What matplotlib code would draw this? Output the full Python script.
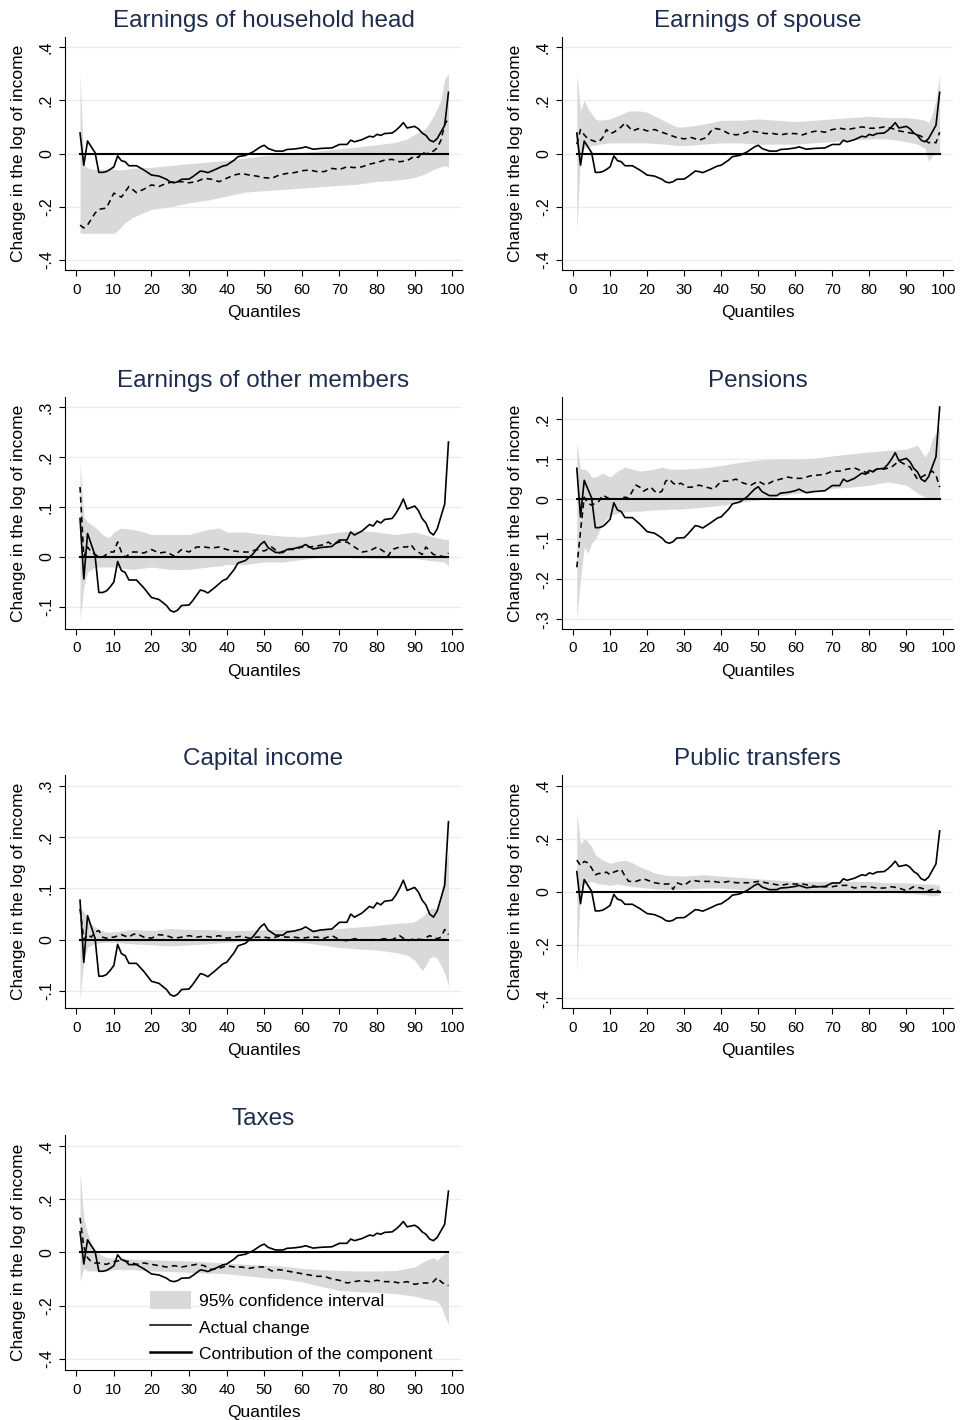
import matplotlib
matplotlib.use("Agg")
import matplotlib.pyplot as plt
from matplotlib.lines import Line2D
from matplotlib.patches import Patch
import numpy as np

plt.rcParams['font.family'] = ['Liberation Sans', 'DejaVu Sans']

# actual change (same in every panel)
ACT_Q = [1, 2, 3, 4, 5, 6, 7, 8, 9, 10, 11, 12, 13, 14, 16, 18, 20, 22, 24, 25, 26, 27, 28, 30, 31, 33, 34, 35,
         37, 39, 40, 42, 43, 45, 47, 49, 50, 51, 53, 55, 56, 58, 60, 61, 63, 65, 68, 70, 72, 73, 74, 76, 78, 79,
         80, 81, 82, 84, 85, 86, 87, 88, 90, 91, 92, 93, 94, 95, 96, 97, 98, 99]
ACT_Y = [0.077, -0.044, 0.047, 0.025, 0.003, -0.071, -0.071, -0.068, -0.06, -0.05, -0.009, -0.027, -0.031, -0.046,
         -0.046, -0.062, -0.081, -0.085, -0.097, -0.107, -0.11, -0.106, -0.097, -0.096, -0.087, -0.066, -0.068,
         -0.072, -0.06, -0.047, -0.044, -0.025, -0.012, -0.007, 0.006, 0.025, 0.031, 0.019, 0.009, 0.009, 0.015,
         0.017, 0.021, 0.025, 0.016, 0.019, 0.021, 0.034, 0.034, 0.05, 0.044, 0.052, 0.065, 0.062, 0.072, 0.068,
         0.075, 0.077, 0.087, 0.1, 0.116, 0.096, 0.102, 0.093, 0.077, 0.068, 0.05, 0.044, 0.056, 0.081, 0.106, 0.23]

# Earnings of household head
HEAD_Q = [1, 2, 3, 5, 6, 8, 10, 12, 14, 16, 18, 20, 22, 24, 26, 28, 30, 32, 34, 36, 38, 40, 42, 44, 46, 48, 50, 52,
          54, 56, 58, 60, 62, 64, 66, 68, 70, 72, 74, 76, 78, 80, 82, 84, 86, 88, 90, 91, 92, 93, 95, 96, 97, 98, 99]
HEAD_MID = [-0.269, -0.28, -0.269, -0.224, -0.21, -0.205, -0.149, -0.164, -0.124, -0.147, -0.134, -0.118, -0.124,
            -0.112, -0.106, -0.106, -0.11, -0.106, -0.093, -0.097, -0.106, -0.093, -0.081, -0.075, -0.081, -0.085,
            -0.091, -0.093, -0.081, -0.075, -0.072, -0.065, -0.062, -0.068, -0.068, -0.056, -0.06, -0.05, -0.053,
            -0.05, -0.04, -0.034, -0.025, -0.022, -0.031, -0.027, -0.01, -0.015, 0.006, -0.002, 0.009, 0.021, 0.05,
            0.11, 0.131]
HEAD_CQ = [1, 2, 3, 5, 10, 11, 13, 15, 20, 25, 30, 35, 40, 45, 50, 55, 60, 65, 70, 75, 80, 85, 88, 90, 93, 95, 97,
           98, 99]
HEAD_HI = [0.3, -0.04, -0.055, -0.06, -0.058, -0.062, -0.06, -0.055, -0.052, -0.045, -0.038, -0.032, -0.025, -0.017,
           -0.008, -0.003, 0.004, 0.01, 0.018, 0.025, 0.033, 0.042, 0.055, 0.072, 0.095, 0.14, 0.2, 0.28, 0.3]
HEAD_LO = [-0.3, -0.3, -0.3, -0.3, -0.3, -0.29, -0.26, -0.24, -0.21, -0.2, -0.185, -0.175, -0.16, -0.145, -0.14,
           -0.135, -0.13, -0.125, -0.12, -0.115, -0.105, -0.1, -0.095, -0.09, -0.075, -0.06, -0.05, -0.045, -0.05]

# Earnings of spouse
SP_Q = [1, 2, 3, 4, 5, 6, 7, 8, 9, 10, 11, 12, 13, 14, 15, 16, 18, 20, 22, 24, 26, 28, 30, 32, 34, 36, 37, 38, 40,
        42, 44, 46, 48, 50, 52, 54, 56, 58, 60, 62, 64, 66, 68, 70, 72, 74, 76, 78, 80, 82, 84, 86, 88, 90, 92, 94,
        96, 97, 98, 99]
SP_MID = [0.035, 0.09, 0.07, 0.055, 0.05, 0.045, 0.045, 0.06, 0.09, 0.075, 0.08, 0.09, 0.1, 0.115, 0.1, 0.085,
          0.095, 0.085, 0.09, 0.08, 0.07, 0.06, 0.055, 0.06, 0.05, 0.06, 0.08, 0.095, 0.09, 0.075, 0.07, 0.075,
          0.085, 0.08, 0.075, 0.075, 0.07, 0.075, 0.075, 0.07, 0.08, 0.085, 0.08, 0.09, 0.095, 0.09, 0.095, 0.1,
          0.095, 0.095, 0.1, 0.095, 0.085, 0.08, 0.075, 0.065, 0.04, 0.045, 0.04, 0.08]
SP_CQ = [1, 2, 3, 4, 5, 6, 7, 10, 15, 18, 20, 25, 28, 30, 35, 40, 45, 50, 55, 60, 65, 70, 75, 80, 85, 90, 93, 95,
         96, 97, 98, 99]
SP_HI = [0.3, 0.16, 0.2, 0.17, 0.15, 0.13, 0.125, 0.13, 0.16, 0.16, 0.155, 0.12, 0.1, 0.1, 0.11, 0.125, 0.125, 0.13,
         0.125, 0.12, 0.125, 0.13, 0.135, 0.14, 0.135, 0.135, 0.13, 0.125, 0.115, 0.15, 0.2, 0.3]
SP_LO = [-0.3, 0.0, 0.02, 0.025, 0.03, 0.03, 0.035, 0.04, 0.04, 0.04, 0.04, 0.035, 0.03, 0.03, 0.035, 0.04, 0.04,
         0.035, 0.035, 0.035, 0.04, 0.045, 0.05, 0.055, 0.055, 0.045, 0.035, 0.02, -0.03, -0.01, 0.0, 0.0]

# Earnings of other members
OT_Q = [1, 2, 3, 4, 5, 6, 7, 8, 9, 10, 11, 12, 13, 14, 15, 16, 18, 20, 22, 24, 26, 28, 30, 32, 34, 36, 38, 40, 42,
        44, 46, 48, 50, 52, 54, 56, 58, 60, 62, 64, 66, 67, 68, 70, 72, 74, 76, 78, 80, 82, 83, 84, 86, 88, 89, 90,
        92, 93, 95, 97, 98, 99]
OT_MID = [0.14, 0.0, 0.02, 0.01, 0.005, 0.0, 0.0, 0.005, 0.01, 0.01, 0.03, 0.01, 0.0, 0.005, 0.01, 0.01, 0.008,
          0.015, 0.008, 0.01, 0.002, 0.015, 0.01, 0.02, 0.02, 0.018, 0.02, 0.015, 0.012, 0.01, 0.01, 0.015, 0.012,
          0.02, 0.008, 0.015, 0.015, 0.02, 0.02, 0.022, 0.025, 0.03, 0.025, 0.03, 0.03, 0.02, 0.01, 0.012, 0.02,
          0.01, 0.002, 0.015, 0.02, 0.02, 0.025, 0.015, 0.005, 0.02, 0.005, 0.002, 0.0, 0.008]
OT_CQ = [1, 2, 3, 5, 7, 8, 9, 10, 12, 15, 18, 20, 25, 30, 35, 38, 40, 45, 50, 55, 60, 65, 70, 75, 80, 85, 90, 95,
         98, 99]
OT_HI = [0.19, 0.08, 0.07, 0.06, 0.045, 0.04, 0.04, 0.05, 0.058, 0.055, 0.05, 0.045, 0.045, 0.045, 0.055, 0.058,
         0.05, 0.05, 0.045, 0.042, 0.04, 0.045, 0.05, 0.053, 0.05, 0.045, 0.05, 0.04, 0.035, 0.035]
OT_LO = [-0.125, -0.06, -0.03, -0.02, -0.02, -0.02, -0.02, -0.02, -0.022, -0.025, -0.022, -0.02, -0.025, -0.025,
         -0.02, -0.018, -0.015, -0.015, -0.01, -0.01, -0.005, 0.0, 0.0, -0.002, -0.003, -0.003, -0.003, -0.008,
         -0.01, -0.018]

# Pensions
PE_Q = [1, 2, 3, 4, 5, 6, 7, 8, 9, 10, 12, 14, 15, 16, 17, 18, 19, 20, 21, 22, 23, 24, 25, 26, 27, 28, 29, 30, 31,
        32, 34, 36, 38, 39, 40, 42, 44, 46, 48, 50, 52, 54, 56, 58, 60, 62, 64, 66, 68, 70, 72, 74, 76, 78, 80, 82,
        84, 86, 88, 89, 90, 91, 92, 93, 94, 95, 96, 97, 98, 99]
PE_MID = [-0.17, -0.08, 0.005, -0.01, -0.015, -0.01, -0.005, 0.01, 0.005, 0.0, 0.0, 0.005, 0.003, 0.02, 0.035, 0.03,
          0.02, 0.025, 0.03, 0.02, 0.015, 0.02, 0.045, 0.05, 0.04, 0.035, 0.04, 0.035, 0.03, 0.03, 0.035, 0.03,
          0.025, 0.035, 0.045, 0.045, 0.05, 0.04, 0.035, 0.045, 0.035, 0.045, 0.05, 0.055, 0.052, 0.052, 0.058,
          0.06, 0.062, 0.07, 0.07, 0.075, 0.078, 0.07, 0.065, 0.075, 0.075, 0.08, 0.095, 0.09, 0.085, 0.08, 0.065,
          0.05, 0.055, 0.06, 0.065, 0.07, 0.06, 0.03]
PE_CQ = [1, 2, 3, 4, 5, 6, 7, 8, 9, 10, 12, 14, 16, 18, 20, 22, 24, 26, 28, 30, 35, 40, 45, 50, 55, 60, 65, 70, 75,
         80, 85, 90, 93, 95, 96, 97, 98, 99]
PE_HI = [0.14, 0.075, 0.075, 0.07, 0.055, 0.055, 0.06, 0.065, 0.06, 0.055, 0.07, 0.08, 0.075, 0.07, 0.072, 0.075,
         0.08, 0.075, 0.075, 0.075, 0.078, 0.084, 0.092, 0.098, 0.1, 0.1, 0.102, 0.108, 0.113, 0.118, 0.122, 0.125,
         0.135, 0.105, 0.12, 0.15, 0.165, 0.18]
PE_LO = [-0.3, -0.2, -0.12, -0.135, -0.11, -0.1, -0.08, -0.06, -0.05, -0.04, -0.035, -0.032, -0.03, -0.03, -0.028,
         -0.027, -0.026, -0.025, -0.025, -0.024, -0.02, -0.015, -0.008, -0.002, 0.007, 0.014, 0.022, 0.027, 0.03,
         0.035, 0.043, 0.035, 0.015, 0.005, 0.0, 0.0, 0.0, 0.0]

# Capital income
CA_Q = [1, 2, 3, 4, 5, 6, 7, 8, 9, 10, 12, 13, 14, 15, 16, 18, 20, 22, 24, 26, 28, 30, 32, 34, 36, 38, 40, 42, 44,
        46, 48, 50, 52, 54, 56, 58, 60, 62, 64, 66, 68, 70, 72, 74, 76, 78, 80, 82, 84, 86, 88, 90, 92, 94, 96, 97,
        98, 99]
CA_MID = [0.06, 0.0, 0.01, 0.005, 0.015, 0.018, 0.005, 0.003, 0.005, 0.005, 0.01, 0.007, 0.005, 0.01, 0.012, 0.005,
          0.003, 0.01, 0.008, 0.003, 0.005, 0.008, 0.005, 0.007, 0.005, 0.008, 0.003, 0.005, 0.007, 0.003, 0.005,
          0.005, 0.003, 0.007, 0.005, 0.005, 0.003, 0.005, 0.005, 0.003, 0.008, 0.0, -0.002, 0.002, 0.0, 0.0, 0.0,
          0.002, 0.0, 0.008, -0.002, 0.002, 0.0, 0.008, 0.002, 0.005, 0.02, 0.01]
CA_CQ = [1, 2, 3, 4, 5, 6, 8, 10, 15, 20, 25, 30, 35, 40, 45, 50, 55, 60, 65, 70, 75, 80, 85, 88, 90, 92, 93, 94,
         95, 96, 97, 98, 99]
CA_HI = [0.06, 0.055, 0.04, 0.03, 0.025, 0.02, 0.015, 0.015, 0.02, 0.018, 0.022, 0.02, 0.02, 0.018, 0.018, 0.02,
         0.02, 0.02, 0.02, 0.022, 0.025, 0.028, 0.032, 0.033, 0.035, 0.045, 0.052, 0.06, 0.062, 0.06, 0.09, 0.14,
         0.17]
CA_LO = [-0.115, -0.04, -0.015, -0.01, -0.008, -0.006, -0.005, -0.005, -0.008, -0.01, -0.012, -0.01, -0.008,
         -0.005, -0.003, -0.002, -0.003, -0.005, -0.01, -0.015, -0.018, -0.02, -0.025, -0.03, -0.04, -0.06, -0.05,
         -0.035, -0.033, -0.036, -0.05, -0.065, -0.09]

# Public transfers
PT_Q = [1, 2, 3, 4, 5, 6, 7, 8, 9, 10, 11, 12, 13, 14, 15, 17, 19, 20, 22, 24, 26, 27, 28, 30, 32, 34, 36, 38, 40,
        42, 44, 46, 48, 50, 52, 54, 56, 58, 60, 62, 64, 66, 68, 70, 72, 74, 76, 78, 80, 82, 84, 86, 88, 90, 92, 94,
        96, 97, 98, 99]
PT_MID = [0.12, 0.1, 0.115, 0.11, 0.09, 0.065, 0.07, 0.07, 0.075, 0.065, 0.075, 0.08, 0.085, 0.06, 0.04, 0.04, 0.05,
          0.045, 0.035, 0.03, 0.03, 0.01, 0.035, 0.025, 0.045, 0.04, 0.04, 0.04, 0.035, 0.04, 0.035, 0.035, 0.035,
          0.04, 0.035, 0.03, 0.025, 0.03, 0.03, 0.03, 0.025, 0.02, 0.02, 0.02, 0.025, 0.025, 0.015, 0.02, 0.02,
          0.015, 0.015, 0.02, 0.015, 0.005, 0.02, 0.015, 0.005, 0.01, 0.01, 0.0]
PT_CQ = [1, 2, 3, 4, 5, 6, 7, 8, 10, 12, 14, 16, 18, 20, 22, 25, 30, 35, 40, 45, 50, 55, 60, 65, 70, 75, 80, 85, 90,
         95, 97, 99]
PT_HI = [0.3, 0.18, 0.2, 0.19, 0.17, 0.14, 0.13, 0.12, 0.108, 0.115, 0.12, 0.11, 0.095, 0.083, 0.072, 0.063, 0.06,
         0.065, 0.06, 0.055, 0.05, 0.045, 0.04, 0.04, 0.04, 0.04, 0.04, 0.035, 0.035, 0.03, 0.03, 0.025]
PT_LO = [-0.3, 0.02, 0.03, 0.035, 0.04, 0.035, 0.03, 0.03, 0.025, 0.03, 0.025, 0.02, 0.018, 0.015, 0.012, 0.01, 0.01,
         0.015, 0.015, 0.01, 0.01, 0.005, 0.005, 0.005, 0.005, 0.005, 0.002, 0.0, -0.005, -0.01, -0.015, -0.01]

# Taxes
TX_Q = [1, 2, 3, 4, 5, 6, 8, 10, 12, 14, 16, 18, 20, 22, 24, 26, 28, 30, 32, 34, 36, 38, 40, 42, 44, 46, 48, 50, 52,
        54, 56, 58, 60, 62, 64, 66, 68, 70, 72, 74, 76, 78, 80, 82, 84, 86, 88, 90, 92, 94, 95, 96, 97, 98, 99]
TX_MID = [0.13, 0.02, -0.02, -0.035, -0.04, -0.04, -0.045, -0.035, -0.03, -0.035, -0.045, -0.04, -0.045, -0.05,
          -0.055, -0.05, -0.055, -0.05, -0.045, -0.05, -0.065, -0.06, -0.05, -0.055, -0.055, -0.06, -0.055, -0.055,
          -0.07, -0.065, -0.07, -0.075, -0.08, -0.085, -0.09, -0.09, -0.1, -0.105, -0.115, -0.11, -0.105, -0.11,
          -0.105, -0.11, -0.11, -0.115, -0.11, -0.12, -0.115, -0.115, -0.11, -0.095, -0.11, -0.12, -0.125]
TX_CQ = [1, 2, 3, 4, 5, 6, 8, 10, 15, 20, 25, 30, 35, 40, 45, 50, 55, 60, 65, 70, 75, 80, 85, 90, 93, 95, 96, 97,
         98, 99]
TX_HI = [0.3, 0.13, 0.07, 0.035, 0.012, -0.005, -0.02, -0.022, -0.025, -0.028, -0.03, -0.032, -0.036, -0.04, -0.045,
         -0.048, -0.052, -0.06, -0.065, -0.068, -0.07, -0.07, -0.068, -0.055, -0.03, -0.02, -0.03, -0.015, -0.005, 0.0]
TX_LO = [-0.11, -0.06, -0.07, -0.07, -0.07, -0.07, -0.07, -0.065, -0.065, -0.07, -0.072, -0.075, -0.078, -0.08,
         -0.088, -0.095, -0.1, -0.11, -0.128, -0.143, -0.148, -0.15, -0.155, -0.165, -0.175, -0.18, -0.185, -0.2,
         -0.24, -0.27]

TITLES = ['Earnings of household head', 'Earnings of spouse', 'Earnings of other members', 'Pensions',
          'Capital income', 'Public transfers', 'Taxes']

BAND = '#d9d9d9'
GRID = '#e6eff1'
TITLE_COLOR = '#1e2d4f'

W, H = 961, 1420
fig = plt.figure(figsize=(W / 100, H / 100), dpi=100)

cols = [(65, 462), (562, 953)]
rows = [(37, 270), (397, 629), (775, 1008), (1135, 1370)]


def stata_fmt(v):
    if abs(v) < 1e-9:
        return '0'
    s = '%g' % round(v, 3)
    return s.replace('0.', '.')


panels = [
    (HEAD_Q, HEAD_MID, HEAD_CQ, HEAD_LO, HEAD_HI, (-0.438, 0.438), [-0.4, -0.2, 0, 0.2, 0.4]),
    (SP_Q, SP_MID, SP_CQ, SP_LO, SP_HI, (-0.438, 0.438), [-0.4, -0.2, 0, 0.2, 0.4]),
    (OT_Q, OT_MID, OT_CQ, OT_LO, OT_HI, (-0.144, 0.32), [-0.1, 0, 0.1, 0.2, 0.3]),
    (PE_Q, PE_MID, PE_CQ, PE_LO, PE_HI, (-0.324, 0.255), [-0.3, -0.2, -0.1, 0, 0.1, 0.2]),
    (CA_Q, CA_MID, CA_CQ, CA_LO, CA_HI, (-0.133, 0.321), [-0.1, 0, 0.1, 0.2, 0.3]),
    (PT_Q, PT_MID, PT_CQ, PT_LO, PT_HI, (-0.436, 0.44), [-0.4, -0.2, 0, 0.2, 0.4]),
    (TX_Q, TX_MID, TX_CQ, TX_LO, TX_HI, (-0.442, 0.441), [-0.4, -0.2, 0, 0.2, 0.4]),
]

axes = []
for i, (q, mid, cq, lo, hi, ylim, yticks) in enumerate(panels):
    r, c = divmod(i, 2)
    x0, x1 = cols[c]
    top, bot = rows[r]
    ax = fig.add_axes([x0 / W, 1 - bot / H, (x1 - x0) / W, (bot - top) / H])
    axes.append(ax)

    ax.fill_between(cq, lo, hi, color=BAND, lw=0, zorder=1)
    ax.plot([1, 99], [0, 0], color='black', lw=1.5, zorder=3)
    ax.plot(q, mid, color='black', lw=1.15, dashes=(3.6, 2.6), zorder=4)
    ax.plot(ACT_Q, ACT_Y, color='black', lw=1.2, zorder=5)

    ax.set_xlim(-3, 102.6)
    ax.set_ylim(*ylim)
    ax.set_xticks(range(0, 101, 10))
    ax.set_yticks(yticks)
    ax.set_yticklabels([stata_fmt(v) for v in yticks], rotation=90, va='center')
    for v in yticks:
        ax.axhline(v, color=GRID, lw=1, zorder=0)

    for s in ['top', 'right']:
        ax.spines[s].set_visible(False)
    for s in ['left', 'bottom']:
        ax.spines[s].set_linewidth(0.8)
    ax.tick_params(axis='both', length=4, width=0.8, labelsize=11, direction='out')
    ax.tick_params(axis='x', pad=5)
    ax.tick_params(axis='y', labelsize=11.5, pad=4)

    ax.set_xlabel('Quantiles', fontsize=12.5, labelpad=6)
    ax.set_ylabel('Change in the log of income', fontsize=12.5, labelpad=9)
    ax.set_title(TITLES[i], fontsize=17.5, color=TITLE_COLOR, pad=7)

handles = [Patch(facecolor=BAND, edgecolor='none'),
           Line2D([], [], color='black', lw=1.1),
           Line2D([], [], color='black', lw=1.8)]
axes[6].legend(handles, ['95% confidence interval', 'Actual change', 'Contribution of the component'],
               loc='upper left', bbox_to_anchor=(0.214, 0.335), frameon=False, fontsize=12.5,
               handlelength=2.35, handleheight=1.2, handletextpad=0.45, labelspacing=0.5,
               borderpad=0, borderaxespad=0)

fig.savefig('out.png', dpi=100, facecolor='white')
